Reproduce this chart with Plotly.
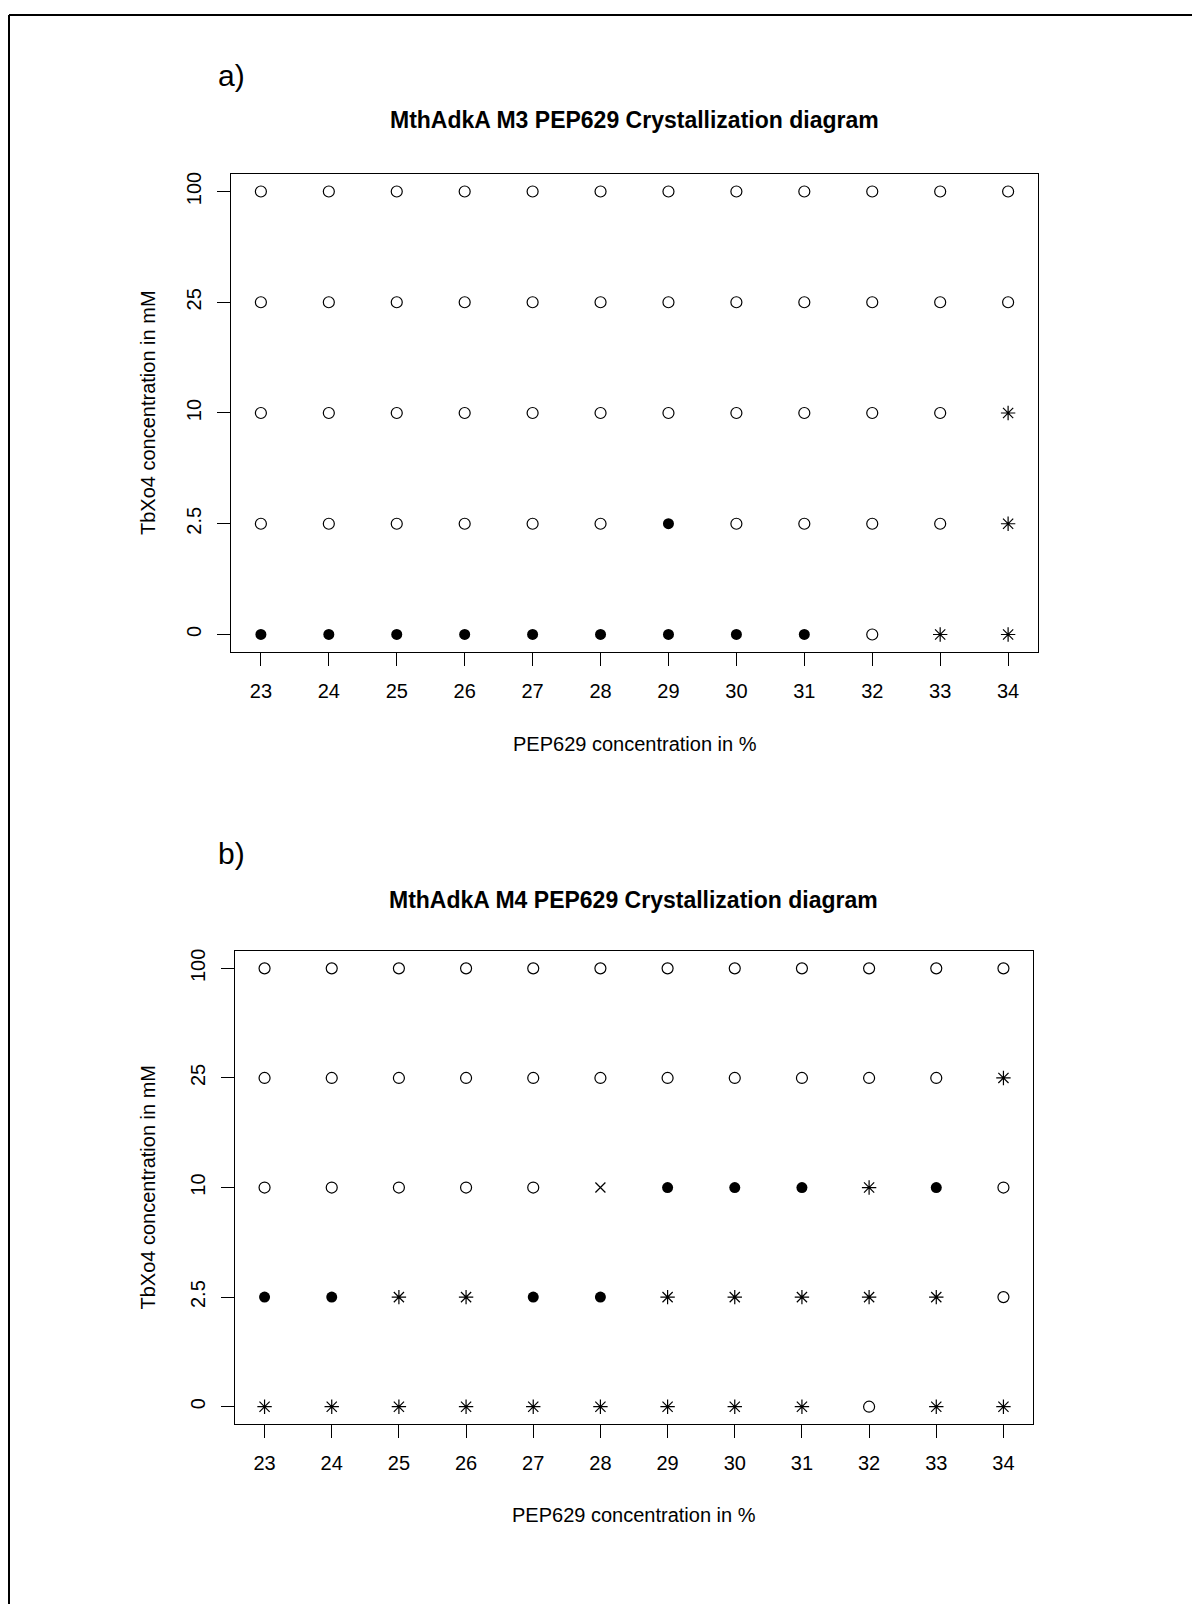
import plotly.graph_objects as go

# PEP629 concentrations (x) and TbXo4 concentrations (y, equally spaced categories)
pep_conc = [23, 24, 25, 26, 27, 28, 29, 30, 31, 32, 33, 34]
tbxo4_levels = ["0", "2.5", "10", "25", "100"]

# drop outcome per cell, one string per TbXo4 level (bottom to top)
# o = clear drop, f = filled circle, a = asterisk, x = cross
m3_codes = [
    "fffffffffoaa",   # 0
    "oooooofooooa",   # 2.5
    "oooooooooooa",   # 10
    "oooooooooooo",   # 25
    "oooooooooooo",   # 100
]
m4_codes = [
    "aaaaaaaaaoaa",   # 0
    "ffaaffaaaaao",   # 2.5
    "oooooxfffafo",   # 10
    "oooooooooooa",   # 25
    "oooooooooooo",   # 100
]

W, H = 1200, 1604
OFF = 8  # page body margin shifts the figure by this much
FONT = "Liberation Sans, Arial, sans-serif"

SYMBOLS = {
    "o": dict(symbol="circle-open", size=11, color="black", line=dict(width=1.2, color="black")),
    "f": dict(symbol="circle", size=11, color="black", line=dict(width=0)),
    "a": dict(symbol="asterisk-open", size=12, color="black", line=dict(width=1.2, color="black")),
    "x": dict(symbol="x-thin-open", size=10, color="black", line=dict(width=1.2, color="black")),
}


def px_x(v):
    return (v - OFF) / W


def px_y(v):
    return 1 - (v - OFF) / H


fig = go.Figure()

panels = [
    # codes, axis suffix, x px range, y px range, title, label, label y, title y, xtitle y
    (m3_codes, "", (231, 1038), (172, 651), "MthAdkA M3 PEP629 Crystallization diagram", "a)", 74, 118, 743),
    (m4_codes, "2", (235, 1033), (950, 1424), "MthAdkA M4 PEP629 Crystallization diagram", "b)", 853, 899, 1515),
]

annotations = []
for codes, suf, (xl, xr), (yt, yb), title, label, label_y, title_y, xt_y in panels:
    for code, style in SYMBOLS.items():
        xs, ys = [], []
        for lvl, row in zip(tbxo4_levels, codes):
            for xv, c in zip(pep_conc, row):
                if c == code:
                    xs.append(xv)
                    ys.append(lvl)
        if not xs:
            continue
        fig.add_trace(go.Scatter(
            x=xs, y=ys, mode="markers", marker=style,
            xaxis="x" + suf, yaxis="y" + suf, showlegend=False, hoverinfo="x+y",
        ))

    axis_common = dict(
        showline=True, mirror=True, linecolor="black", linewidth=1.3,
        ticks="outside", ticklen=13, tickwidth=1, tickcolor="black",
        showgrid=False, zeroline=False,
        tickfont=dict(family=FONT, size=20, color="black"),
    )
    fig.layout["xaxis" + suf] = dict(
        axis_common, domain=[px_x(xl), px_x(xr)], anchor="y" + suf,
        range=[22.56, 34.44], tickmode="array", tickvals=pep_conc,
        ticklabelstandoff=8,
    )
    fig.layout["yaxis" + suf] = dict(
        axis_common, domain=[px_y(yb), px_y(yt)], anchor="x" + suf,
        type="category", categoryorder="array", categoryarray=tbxo4_levels,
        range=[-0.16, 4.16], tickangle=-90, ticklabelstandoff=8,
    )

    xc = (xl + xr) / 2
    annotations += [
        dict(text=label, x=px_x(231), y=px_y(label_y), showarrow=False,
             font=dict(family=FONT, size=30, color="black")),
        dict(text="<b>" + title + "</b>", x=px_x(xc), y=px_y(title_y), showarrow=False,
             font=dict(family=FONT, size=23, color="black")),
        dict(text="PEP629 concentration in %", x=px_x(xc), y=px_y(xt_y), showarrow=False,
             font=dict(family=FONT, size=20, color="black")),
        dict(text="TbXo4 concentration in mM", x=px_x(148), y=px_y((yt + yb) / 2),
             showarrow=False, textangle=-90,
             font=dict(family=FONT, size=20, color="black")),
    ]

for a in annotations:
    a.update(xref="paper", yref="paper", xanchor="center", yanchor="middle")

fig.update_layout(
    width=W, height=H,
    margin=dict(l=0, r=0, t=0, b=0),
    paper_bgcolor="white", plot_bgcolor="white",
    annotations=annotations,
    shapes=[
        dict(type="line", xref="paper", yref="paper", x0=px_x(9), x1=px_x(9),
             y0=0, y1=px_y(13), line=dict(color="black", width=2)),
        dict(type="line", xref="paper", yref="paper", x0=px_x(9), x1=1,
             y0=px_y(13), y1=px_y(13), line=dict(color="black", width=2)),
    ],
)

fig.write_html("out.html")
